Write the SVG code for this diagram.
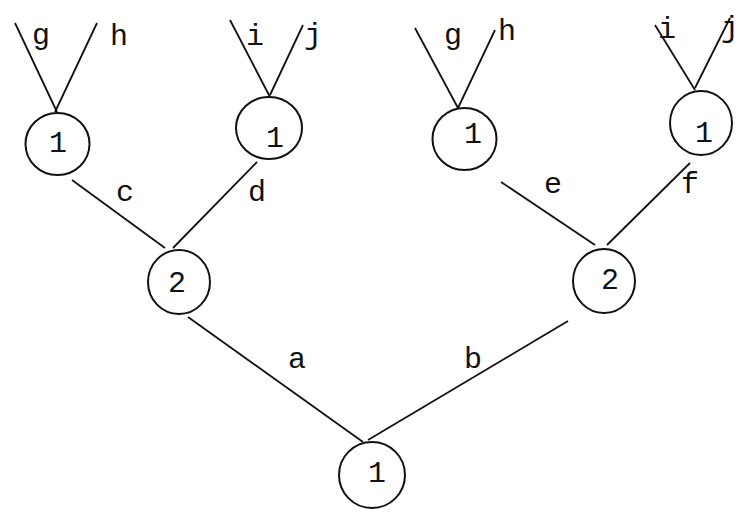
<svg xmlns="http://www.w3.org/2000/svg" width="747" height="517" viewBox="0 0 747 517">
<style>
.n{fill:none;stroke:#111;stroke-width:2}
.e{stroke:#111;stroke-width:1.8;fill:none}
.t{font-family:"Liberation Mono",monospace;font-size:30px;fill:#111;text-anchor:middle}
.l{font-family:"Liberation Mono",monospace;font-size:30px;fill:#111;text-anchor:middle}
</style>
<rect width="747" height="517" fill="#fff"/>
<g id="connectors">
<line class="e" x1="15" y1="23" x2="57" y2="112"/>
<line class="e" x1="97" y1="23" x2="55" y2="112"/>
<line class="e" x1="230" y1="20" x2="270" y2="97"/>
<line class="e" x1="303" y1="25" x2="270" y2="95"/>
<line class="e" x1="415" y1="28" x2="458" y2="108"/>
<line class="e" x1="495" y1="30" x2="458" y2="108"/>
<line class="e" x1="655" y1="25" x2="695" y2="90"/>
<line class="e" x1="730" y1="18" x2="695" y2="88"/>
<line class="e" x1="72" y1="180" x2="165" y2="248"/>
<line class="e" x1="257" y1="162" x2="173" y2="248"/>
<line class="e" x1="501" y1="182" x2="595" y2="245"/>
<line class="e" x1="690" y1="163" x2="607" y2="245"/>
<line class="e" x1="188" y1="317" x2="363" y2="442"/>
<line class="e" x1="568" y1="321" x2="368" y2="440"/>
<text class="l" x="41" y="44">g</text>
<text class="l" x="119" y="45">h</text>
<text class="l" x="255" y="45">i</text>
<text class="l" x="313" y="44">j</text>
<text class="l" x="453" y="44">g</text>
<text class="l" x="507" y="40">h</text>
<text class="l" x="667" y="38">i</text>
<text class="l" x="730" y="37">j</text>
<text class="l" x="125" y="201">c</text>
<text class="l" x="257" y="201">d</text>
<text class="l" x="553" y="193">e</text>
<text class="l" x="690" y="193">f</text>
<text class="l" x="297" y="368">a</text>
<text class="l" x="473" y="368">b</text>
</g>
<g id="nodeA"><ellipse class="n" cx="57.5" cy="144" rx="32" ry="31"/><text class="t" x="58" y="152">1</text></g>
<g id="nodeB"><ellipse class="n" cx="269" cy="128" rx="33" ry="31"/><text class="t" x="275" y="147">1</text></g>
<g id="nodeC"><ellipse class="n" cx="464.5" cy="139" rx="32" ry="31"/><text class="t" x="473" y="143">1</text></g>
<g id="nodeD"><ellipse class="n" cx="701" cy="123" rx="31" ry="32"/><text class="t" x="704" y="142">1</text></g>
<g id="nodeE"><ellipse class="n" cx="179" cy="282" rx="31" ry="32"/><text class="t" x="177" y="292">2</text></g>
<g id="nodeF"><ellipse class="n" cx="604" cy="281" rx="31" ry="32"/><text class="t" x="610" y="289">2</text></g>
<g id="nodeG"><ellipse class="n" cx="372" cy="475" rx="33" ry="33"/><text class="t" x="377" y="482">1</text></g>
</svg>
